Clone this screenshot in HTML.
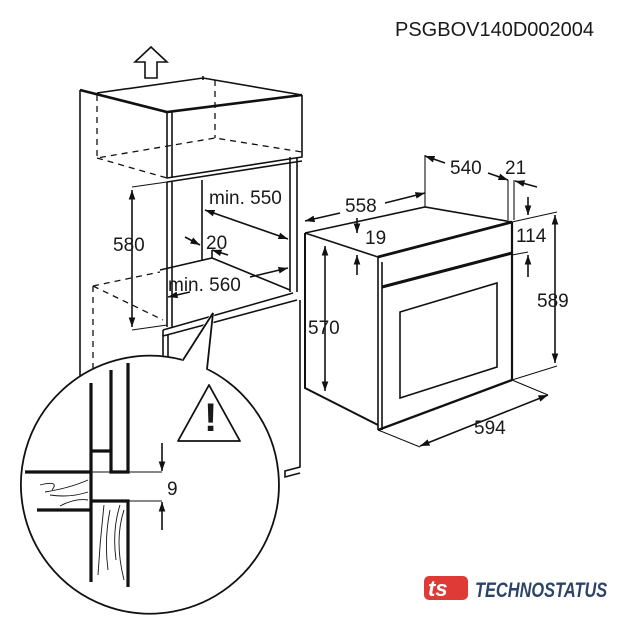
<!DOCTYPE html>
<html><head><meta charset="utf-8"><style>
body{margin:0;background:#fff;width:619px;height:640px;overflow:hidden}
svg{display:block}
text{font-family:"Liberation Sans",sans-serif;fill:#1a1a1a}
</style></head><body>
<svg width="619" height="640" viewBox="0 0 619 640" xmlns="http://www.w3.org/2000/svg">
<defs>
<marker id="a" viewBox="0 0 10 10" refX="10" refY="5" markerWidth="6" markerHeight="6" orient="auto-start-reverse"><path d="M0,1.5 L10,5 L0,8.5 Z" fill="#111"/></marker>
</defs>
<text x="395" y="36" font-size="20">PSGBOV140D002004</text>

<g stroke="#111" fill="none" stroke-width="1.6">
<path d="M145,78 L145,62 L135,62 L151,47 L167,62 L157,62 L157,78 Z" fill="#fff"/>
<path d="M80,90 L167,112 L302,95" stroke-width="2.6"/>
<path d="M97,93 L203,78 L302,95"/>
<path d="M203,76 L203,80"/>
<path d="M167,112 L167,178 L302,157 L302,95"/>
<path d="M172,112 L172,178"/>
<path d="M167,182 L302,161"/>
<g stroke-dasharray="6,5" stroke-width="1.3">
<path d="M97,95 L97,158 L215,138 L302,152"/>
<path d="M215,80 L215,138"/>
<path d="M97,158 L167,178"/>
<path d="M93,286 L93,370"/>
<path d="M93,286 L160,272"/>
<path d="M93,286 L163,320"/>
</g>
<path d="M80,90 L80,378"/>
<path d="M167,182 L167,327 M172,182 L172,327"/>
<path d="M163,335 L163,357 M168,335 L168,357"/>
<path d="M202,180 L202,260"/>
<path d="M290,157 L290,292 M297,157 L297,292"/>
<path d="M160,270 L212,258 L290,290"/>
<path d="M163,330 L293,293 M163,336 L297,300 M163,330 L163,336"/>
<path d="M300,300 L300,467 L285,471 L285,477 L300,473"/>
<path d="M132,187 L167,182 M132,330 L167,325" stroke-width="1.1"/>
<path d="M132,190 L132,327" marker-start="url(#a)" marker-end="url(#a)"/>
<path d="M205,210 L288,239" marker-start="url(#a)" marker-end="url(#a)"/>
<path d="M185,237 L200,245" marker-end="url(#a)"/>
<path d="M228,255 L212,250" marker-end="url(#a)"/>
<path d="M212,250 L212,258"/>
<path d="M250,277 L288,268" marker-end="url(#a)"/>
<path d="M190,292 L168,297" marker-end="url(#a)"/>
<path d="M183,360 A129,129 0 1 0 207,369 L213,313 Z" fill="#fff" stroke-width="1.8"/>
<path d="M207,369 L213,313 L183,360" stroke="#fff" stroke-width="3"/>
<path d="M183,360 L213,313 L207,369" stroke-width="1.8"/>
<path d="M178,441 L209,385 L240,441 Z" stroke-width="1.8" stroke-linejoin="round"/>
<g stroke-width="3.2">
<path d="M91,383 L91,582"/>
<path d="M111,370 L111,472 L128,472 L128,363"/>
<path d="M91,451 L111,451"/>
<path d="M25,472 L91,472 M37,510 L91,510"/>
<path d="M91,501 L128,501 L128,587"/>
</g>
<path d="M91,472 L162,472 M91,501 L162,501" stroke-width="0.9"/>
<path d="M162,443 L162,471" marker-end="url(#a)"/>
<path d="M162,530 L162,502" marker-end="url(#a)"/>
<g stroke-width="0.9">
<path d="M40,485 Q60,480 52,490 M45,492 Q70,488 88,480 M50,495 Q70,498 88,492 M60,506 Q75,498 88,500"/>
<path d="M98,575 Q100,540 104,505 M108,570 Q104,540 110,510 M116,560 Q112,530 120,505 M124,580 Q114,540 124,510"/>
</g>
<path d="M305,233 L425,207 L512,222"/>
<path d="M305,233 L305,388 L378,425" stroke-width="2"/>
<path d="M305,233 L378,257"/>
<path d="M378,257 L512,222" stroke-width="2.8"/>
<path d="M378,257 L378,430 M382,262 L382,430"/>
<path d="M382,287 L512,253" stroke-width="3"/>
<path d="M512,222 L512,380" stroke-width="2.2"/>
<path d="M378,430 L512,380" stroke-width="2.4"/>
<path d="M400,312 L497,283 L497,367 L400,398 Z"/>
<path d="M425,155 L425,207 M508,180 L508,220 M514,180 L514,220" stroke-width="1.1"/>
<path d="M340,213 L305,221" marker-end="url(#a)"/>
<path d="M385,203 L425,193" marker-end="url(#a)"/>
<path d="M445,163 L425,156" marker-end="url(#a)"/>
<path d="M488,173 L508,180" marker-end="url(#a)"/>
<path d="M537,187 L515,181" marker-end="url(#a)"/>
<path d="M357,218 L357,233" marker-end="url(#a)"/>
<path d="M357,275 L357,255" marker-end="url(#a)"/>
<path d="M325,246 L325,391" marker-start="url(#a)" marker-end="url(#a)"/>
<path d="M528,197 L528,215" marker-end="url(#a)"/>
<path d="M528,277 L528,255" marker-end="url(#a)"/>
<path d="M512,255 L528,252" stroke-width="1.1"/>
<path d="M512,222 L557,212 M512,380 L557,366" stroke-width="1.1"/>
<path d="M555,215 L555,363" marker-start="url(#a)" marker-end="url(#a)"/>
<path d="M378,430 L420,447 M512,380 L548,395" stroke-width="1.1"/>
<path d="M420,446 L548,395" marker-start="url(#a)" marker-end="url(#a)"/>
</g>
<text x="204" y="431" font-size="40" font-weight="bold">!</text>

<g font-size="19">
<text x="209" y="204">min. 550</text>
<text x="206" y="249">20</text>
<text x="168" y="291">min. 560</text>
<text x="113" y="251">580</text>
<text x="167" y="495">9</text>
<text x="345" y="212">558</text>
<text x="450" y="174">540</text>
<text x="505" y="174">21</text>
<text x="365" y="244">19</text>
<text x="308" y="334">570</text>
<text x="516" y="242">114</text>
<text x="537" y="307">589</text>
<text x="474" y="434">594</text>
</g>
<rect x="424" y="576" width="44" height="24" rx="5" fill="#e03a36"/>
<text x="428" y="596" font-size="22" font-weight="bold" font-style="italic" style="fill:#fff">ts</text>
<text x="475" y="597" font-size="21" font-weight="bold" font-style="italic" style="fill:#2c4468" transform="translate(475,0) scale(0.78,1) translate(-475,0)">TECHNOSTATUS</text>
</svg>
</body></html>
